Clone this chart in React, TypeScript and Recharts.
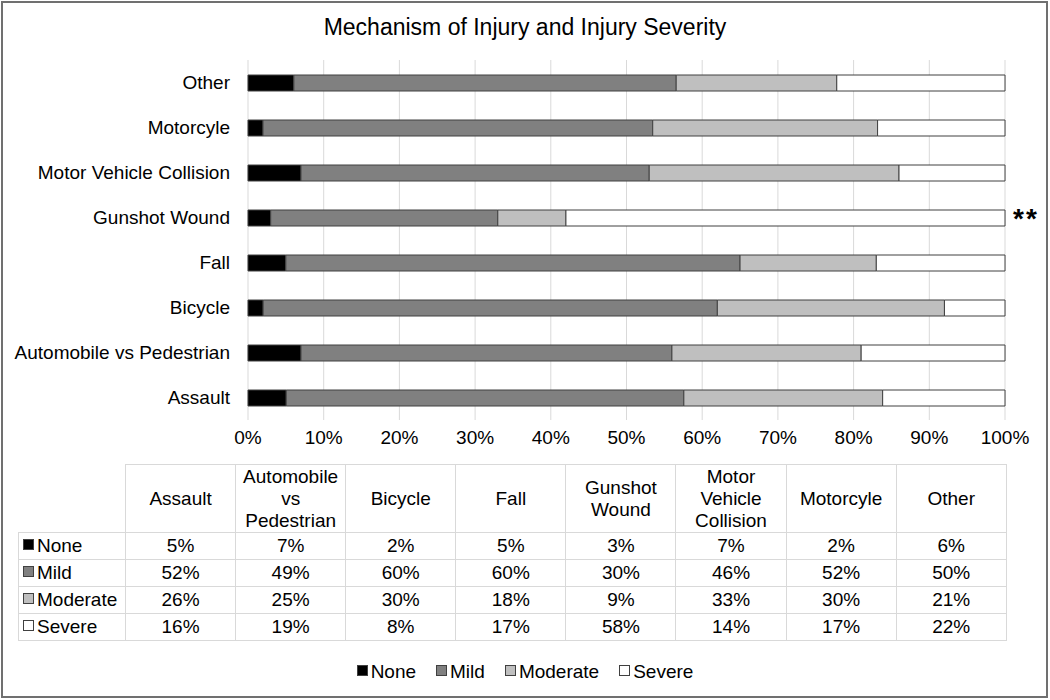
import React from "react";
import {
  BarChart,
  Bar,
  XAxis,
  YAxis,
  CartesianGrid,
  LabelList,
} from "recharts";

const categories = [
  "Assault",
  "Automobile vs Pedestrian",
  "Bicycle",
  "Fall",
  "Gunshot Wound",
  "Motor Vehicle Collision",
  "Motorcyle",
  "Other",
];
const noneVals = [5, 7, 2, 5, 3, 7, 2, 6];
const mildVals = [52, 49, 60, 60, 30, 46, 52, 50];
const moderateVals = [26, 25, 30, 18, 9, 33, 30, 21];
const severeVals = [16, 19, 8, 17, 58, 14, 17, 22];
const notes = ["", "", "", "", "**", "", "", ""];
const xTicks = [0, 0.1, 0.2, 0.3, 0.4, 0.5, 0.6, 0.7, 0.8, 0.9, 1];

const series = [
  { key: "None", values: noneVals, fill: "#000000" },
  { key: "Mild", values: mildVals, fill: "#808080" },
  { key: "Moderate", values: moderateVals, fill: "#bfbfbf" },
  { key: "Severe", values: severeVals, fill: "#ffffff" },
];

const data = categories.map((name, i) => ({
  name,
  None: noneVals[i],
  Mild: mildVals[i],
  Moderate: moderateVals[i],
  Severe: severeVals[i],
  note: notes[i],
}));

const font = "'Liberation Sans', Arial, sans-serif";
const gridColor = "#d9d9d9";

function Key({ fill }: { fill: string }) {
  return (
    <span
      style={{
        display: "inline-block",
        width: 9,
        height: 9,
        background: fill,
        border: "1px solid #404040",
        marginRight: 3,
        verticalAlign: "middle",
        position: "relative",
        top: -2,
      }}
    />
  );
}

export default function App() {
  const cell = {
    border: `1px solid ${gridColor}`,
    textAlign: "center" as const,
    padding: 0,
    height: 26,
  };
  return (
    <div
      style={{
        position: "absolute",
        left: 0,
        top: 0,
        width: 1050,
        height: 700,
        background: "#fff",
        fontFamily: font,
        color: "#000",
      }}
    >
      <div
        style={{
          position: "absolute",
          left: 1,
          top: 1,
          width: 1047,
          height: 697,
          boxSizing: "border-box",
          border: "2px solid #707070",
        }}
      />
      <div
        style={{
          position: "absolute",
          left: 0,
          top: 14,
          width: 1050,
          textAlign: "center",
          fontSize: 23,
        }}
      >
        Mechanism of Injury and Injury Severity
      </div>
      <div style={{ position: "absolute", left: 0, top: 0 }}>
        <BarChart
          width={1050}
          height={460}
          data={data}
          layout="vertical"
          stackOffset="expand"
          margin={{ top: 60, right: 45, left: 0, bottom: 10 }}
        >
          <CartesianGrid horizontal={false} stroke={gridColor} />
          <XAxis
            type="number"
            domain={[0, 1]}
            ticks={xTicks}
            tickFormatter={(v: number) => `${Math.round(v * 100)}%`}
            axisLine={false}
            tickLine={false}
            tickSize={0}
            tickMargin={11}
            height={30}
            tick={{ fontSize: 19, fill: "#000", fontFamily: font }}
          />
          <YAxis
            type="category"
            dataKey="name"
            reversed
            width={248}
            axisLine={false}
            tickLine={false}
            tickSize={0}
            tickMargin={18}
            tick={{ fontSize: 19, fill: "#000", fontFamily: font }}
          />
          {series.map((s) => (
            <Bar
              key={s.key}
              dataKey={s.key}
              stackId="a"
              fill={s.fill}
              stroke="#404040"
              strokeWidth={1}
              barSize={16}
              isAnimationActive={false}
            >
              {s.key === "Severe" && (
                <LabelList
                  dataKey="note"
                  position="right"
                  offset={8}
                  style={{
                    fontSize: 28,
                    fontWeight: "bold",
                    letterSpacing: 2,
                    fill: "#000",
                    fontFamily: font,
                  }}
                />
              )}
            </Bar>
          ))}
        </BarChart>
      </div>
      <table
        style={{
          position: "absolute",
          left: 18,
          top: 464,
          borderCollapse: "collapse",
          tableLayout: "fixed",
          fontSize: 19,
          fontFamily: font,
          width: 988,
        }}
      >
        <colgroup>
          <col style={{ width: 107 }} />
          {categories.map((c) => (
            <col key={c} style={{ width: 110.1 }} />
          ))}
        </colgroup>
        <thead>
          <tr>
            <th style={{ border: "none" }} />
            {categories.map((c) => (
              <th
                key={c}
                style={{
                  ...cell,
                  height: 67,
                  fontWeight: "normal",
                  lineHeight: "22px",
                }}
              >
                {c.split(" ").map((w, i) => (
                  <div key={i}>{w}</div>
                ))}
              </th>
            ))}
          </tr>
        </thead>
        <tbody>
          {series.map((s) => (
            <tr key={s.key}>
              <td
                style={{
                  ...cell,
                  textAlign: "left",
                  paddingLeft: 4,
                  whiteSpace: "nowrap",
                }}
              >
                <Key fill={s.fill} />
                {s.key}
              </td>
              {s.values.map((v, i) => (
                <td key={i} style={cell}>
                  {v}%
                </td>
              ))}
            </tr>
          ))}
        </tbody>
      </table>
      <div
        style={{
          position: "absolute",
          left: 0,
          top: 661,
          width: 1050,
          textAlign: "center",
          fontSize: 19,
        }}
      >
        {series.map((s) => (
          <span key={s.key} style={{ margin: "0 10px" }}>
            <Key fill={s.fill} />
            {s.key}
          </span>
        ))}
      </div>
    </div>
  );
}
